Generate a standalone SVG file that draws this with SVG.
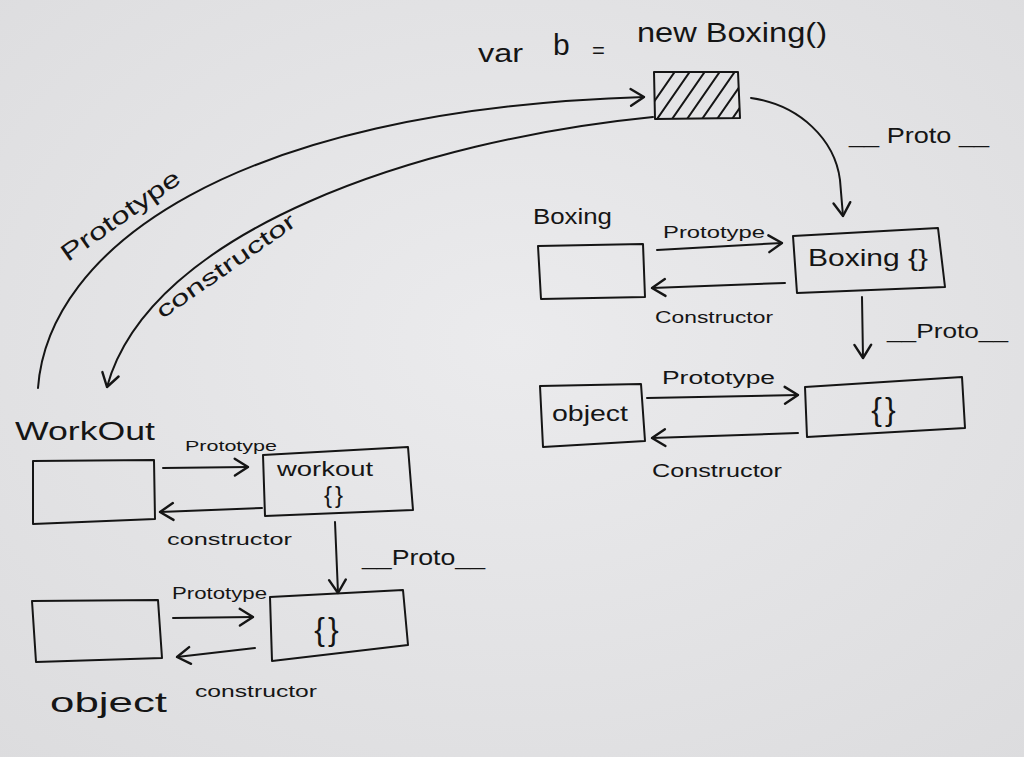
<svg xmlns="http://www.w3.org/2000/svg" width="1024" height="757" viewBox="0 0 1024 757">
<defs>
<radialGradient id="bg" cx="50%" cy="45%" r="75%">
<stop offset="0" stop-color="#ebebed"/>
<stop offset="1" stop-color="#dcdcde"/>
</radialGradient>
<marker id="arr" markerUnits="userSpaceOnUse" markerWidth="24" markerHeight="24" viewBox="-14 -10 18 20" refX="0" refY="0" orient="auto">
<path d="M-11,-7 L0,0 L-11,7" fill="none" stroke="#151515" stroke-width="2" stroke-linecap="round" stroke-linejoin="round"/>
</marker>
<clipPath id="hclip"><polygon points="654,72 738,72 740,118 655,119"/></clipPath>
<style>
.box{fill:none;stroke:#151515;stroke-width:2;stroke-linejoin:round}
.ln{fill:none;stroke:#151515;stroke-width:2;stroke-linecap:round}
.t{font-family:"Liberation Sans",Arial,sans-serif;fill:#151515}
.br{font-family:"Liberation Sans",Arial,sans-serif;fill:#151515;font-weight:300;letter-spacing:3px}
</style>
</defs>
<rect width="1024" height="757" fill="url(#bg)"/>

<g id="instance">
<text class="t" font-size="26"><tspan x="478" y="62" textLength="45" lengthAdjust="spacingAndGlyphs">var</tspan><tspan x="553" y="55" font-size="30">b</tspan><tspan x="592" y="58" font-size="22">=</tspan><tspan x="637" y="42" font-size="28" textLength="190" lengthAdjust="spacingAndGlyphs">new Boxing()</tspan></text>
<polygon class="box" points="654,72 738,72 740,118 655,119"/>
<g clip-path="url(#hclip)" class="ln">
<line x1="640" y1="122" x2="676" y2="70"/>
<line x1="655" y1="122" x2="691" y2="70"/>
<line x1="670" y1="122" x2="706" y2="70"/>
<line x1="685" y1="122" x2="721" y2="70"/>
<line x1="700" y1="122" x2="736" y2="70"/>
<line x1="715" y1="122" x2="751" y2="70"/>
<line x1="730" y1="122" x2="766" y2="70"/>
</g>
</g>

<g id="boxing-fn">
<text class="t" x="533" y="224" font-size="22" textLength="79" lengthAdjust="spacingAndGlyphs">Boxing</text>
<polygon class="box" points="538,246 643,244 645,297 541,299"/>
</g>
<g id="boxing-proto">
<polygon class="box" points="793,236 938,228 945,287 797,293"/>
<text class="t" x="808" y="266" font-size="24" textLength="120" lengthAdjust="spacingAndGlyphs">Boxing {}</text>
</g>
<g id="object-fn-right">
<polygon class="box" points="540,386 641,384 645,441 543,447"/>
<text class="t" x="552" y="421" font-size="22" textLength="76" lengthAdjust="spacingAndGlyphs">object</text>
</g>
<g id="object-proto-right">
<polygon class="box" points="805,387 962,377 965,428 807,437"/>
<text class="br" x="885" y="420" font-size="32" text-anchor="middle">{}</text>
</g>

<g id="workout-fn">
<text class="t" x="15" y="440" font-size="26" textLength="140" lengthAdjust="spacingAndGlyphs">WorkOut</text>
<polygon class="box" points="33,461 154,460 155,519 33,524"/>
</g>
<g id="workout-proto">
<polygon class="box" points="263,455 408,447 413,510 265,516"/>
<text class="t" x="277" y="476" font-size="20" textLength="96" lengthAdjust="spacingAndGlyphs">workout</text>
<text class="br" x="335" y="503" font-size="24" text-anchor="middle">{}</text>
</g>
<g id="object-fn-left">
<polygon class="box" points="32,601 158,600 162,658 36,662"/>
<text class="t" x="50" y="712" font-size="28" textLength="117" lengthAdjust="spacingAndGlyphs">object</text>
</g>
<g id="object-proto-left">
<polygon class="box" points="270,597 403,590 408,645 272,661"/>
<text class="br" x="328" y="640" font-size="32" text-anchor="middle">{}</text>
</g>

<g id="connectors">
<path class="ln" d="M38,388 C48,250 230,110 644,97" marker-end="url(#arr)"/>
<path class="ln" d="M653,117 C420,140 150,230 107,387" marker-end="url(#arr)"/>
<path class="ln" d="M751,98 C800,105 835,140 840,180 L843,216" marker-end="url(#arr)"/>
<path class="ln" d="M657,250 L782,243" marker-end="url(#arr)"/>
<path class="ln" d="M785,283 L652,288" marker-end="url(#arr)"/>
<path class="ln" d="M862,297 L863,358" marker-end="url(#arr)"/>
<path class="ln" d="M647,398 L798,395" marker-end="url(#arr)"/>
<path class="ln" d="M798,433 L652,438" marker-end="url(#arr)"/>
<path class="ln" d="M163,468 L248,467" marker-end="url(#arr)"/>
<path class="ln" d="M262,508 L160,512" marker-end="url(#arr)"/>
<path class="ln" d="M335,522 L338,593" marker-end="url(#arr)"/>
<path class="ln" d="M173,618 L253,617" marker-end="url(#arr)"/>
<path class="ln" d="M255,648 L177,657" marker-end="url(#arr)"/>

<text class="t" font-size="24" transform="translate(125,222) rotate(-35)" text-anchor="middle" textLength="140" lengthAdjust="spacingAndGlyphs">Prototype</text>
<text class="t" font-size="22" transform="translate(230,272) rotate(-35)" text-anchor="middle" textLength="165" lengthAdjust="spacingAndGlyphs">constructor</text>
<text class="t" x="849" y="143" font-size="22" textLength="140" lengthAdjust="spacingAndGlyphs">__ Proto __</text>
<text class="t" x="663" y="238" font-size="17" textLength="102" lengthAdjust="spacingAndGlyphs">Prototype</text>
<text class="t" x="655" y="323" font-size="17" textLength="118" lengthAdjust="spacingAndGlyphs">Constructor</text>
<text class="t" x="887" y="338" font-size="20" textLength="121" lengthAdjust="spacingAndGlyphs">__Proto__</text>
<text class="t" x="662" y="384" font-size="18" textLength="113" lengthAdjust="spacingAndGlyphs">Prototype</text>
<text class="t" x="652" y="477" font-size="18" textLength="130" lengthAdjust="spacingAndGlyphs">Constructor</text>
<text class="t" x="185" y="451" font-size="15" textLength="92" lengthAdjust="spacingAndGlyphs">Prototype</text>
<text class="t" x="167" y="545" font-size="16" textLength="125" lengthAdjust="spacingAndGlyphs">constructor</text>
<text class="t" x="362" y="565" font-size="22" textLength="123" lengthAdjust="spacingAndGlyphs">__Proto__</text>
<text class="t" x="172" y="599" font-size="16" textLength="95" lengthAdjust="spacingAndGlyphs">Prototype</text>
<text class="t" x="195" y="697" font-size="17" textLength="122" lengthAdjust="spacingAndGlyphs">constructor</text>
</g>
</svg>
